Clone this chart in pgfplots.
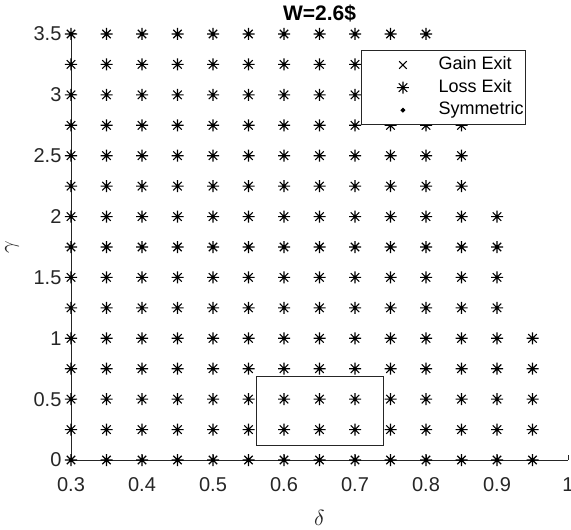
\documentclass[border=0pt]{standalone}
\usepackage{fontspec}
\setmainfont{Liberation Sans}
\usepackage{pgfplots}
\pgfplotsset{compat=1.18}
\pgfdeclareplotmark{mstar}{%
  \pgfpathmoveto{\pgfqpoint{-\pgfplotmarksize}{0pt}}\pgfpathlineto{\pgfqpoint{\pgfplotmarksize}{0pt}}%
  \pgfpathmoveto{\pgfqpoint{0pt}{-\pgfplotmarksize}}\pgfpathlineto{\pgfqpoint{0pt}{\pgfplotmarksize}}%
  \pgfpathmoveto{\pgfqpoint{-0.7071\pgfplotmarksize}{-0.7071\pgfplotmarksize}}\pgfpathlineto{\pgfqpoint{0.7071\pgfplotmarksize}{0.7071\pgfplotmarksize}}%
  \pgfpathmoveto{\pgfqpoint{-0.7071\pgfplotmarksize}{0.7071\pgfplotmarksize}}\pgfpathlineto{\pgfqpoint{0.7071\pgfplotmarksize}{-0.7071\pgfplotmarksize}}%
  \pgfusepathqstroke}
\pgfplotstableread{
x y
0.30 0
0.35 0
0.40 0
0.45 0
0.50 0
0.55 0
0.60 0
0.65 0
0.70 0
0.75 0
0.80 0
0.85 0
0.90 0
0.95 0
0.30 0.25
0.35 0.25
0.40 0.25
0.45 0.25
0.50 0.25
0.55 0.25
0.60 0.25
0.65 0.25
0.70 0.25
0.75 0.25
0.80 0.25
0.85 0.25
0.90 0.25
0.95 0.25
0.30 0.5
0.35 0.5
0.40 0.5
0.45 0.5
0.50 0.5
0.55 0.5
0.60 0.5
0.65 0.5
0.70 0.5
0.75 0.5
0.80 0.5
0.85 0.5
0.90 0.5
0.95 0.5
0.30 0.75
0.35 0.75
0.40 0.75
0.45 0.75
0.50 0.75
0.55 0.75
0.60 0.75
0.65 0.75
0.70 0.75
0.75 0.75
0.80 0.75
0.85 0.75
0.90 0.75
0.95 0.75
0.30 1.0
0.35 1.0
0.40 1.0
0.45 1.0
0.50 1.0
0.55 1.0
0.60 1.0
0.65 1.0
0.70 1.0
0.75 1.0
0.80 1.0
0.85 1.0
0.90 1.0
0.95 1.0
0.30 1.25
0.35 1.25
0.40 1.25
0.45 1.25
0.50 1.25
0.55 1.25
0.60 1.25
0.65 1.25
0.70 1.25
0.75 1.25
0.80 1.25
0.85 1.25
0.90 1.25
0.30 1.5
0.35 1.5
0.40 1.5
0.45 1.5
0.50 1.5
0.55 1.5
0.60 1.5
0.65 1.5
0.70 1.5
0.75 1.5
0.80 1.5
0.85 1.5
0.90 1.5
0.30 1.75
0.35 1.75
0.40 1.75
0.45 1.75
0.50 1.75
0.55 1.75
0.60 1.75
0.65 1.75
0.70 1.75
0.75 1.75
0.80 1.75
0.85 1.75
0.90 1.75
0.30 2.0
0.35 2.0
0.40 2.0
0.45 2.0
0.50 2.0
0.55 2.0
0.60 2.0
0.65 2.0
0.70 2.0
0.75 2.0
0.80 2.0
0.85 2.0
0.90 2.0
0.30 2.25
0.35 2.25
0.40 2.25
0.45 2.25
0.50 2.25
0.55 2.25
0.60 2.25
0.65 2.25
0.70 2.25
0.75 2.25
0.80 2.25
0.85 2.25
0.30 2.5
0.35 2.5
0.40 2.5
0.45 2.5
0.50 2.5
0.55 2.5
0.60 2.5
0.65 2.5
0.70 2.5
0.75 2.5
0.80 2.5
0.85 2.5
0.30 2.75
0.35 2.75
0.40 2.75
0.45 2.75
0.50 2.75
0.55 2.75
0.60 2.75
0.65 2.75
0.70 2.75
0.75 2.75
0.80 2.75
0.85 2.75
0.30 3.0
0.35 3.0
0.40 3.0
0.45 3.0
0.50 3.0
0.55 3.0
0.60 3.0
0.65 3.0
0.70 3.0
0.75 3.0
0.80 3.0
0.30 3.25
0.35 3.25
0.40 3.25
0.45 3.25
0.50 3.25
0.55 3.25
0.60 3.25
0.65 3.25
0.70 3.25
0.75 3.25
0.80 3.25
0.30 3.5
0.35 3.5
0.40 3.5
0.45 3.5
0.50 3.5
0.55 3.5
0.60 3.5
0.65 3.5
0.70 3.5
0.75 3.5
0.80 3.5
}\lossdata
\begin{document}
\begin{tikzpicture}
\begin{axis}[
  name=ax,
  scale only axis,
  width=248.5pt, height=213pt,
  xmin=0.3, xmax=1, ymin=0, ymax=3.5,
  axis x line*=bottom, axis y line*=left,
  axis line style={black!85, line width=0.5pt},
  clip=false,
  tick align=inside,
  major tick length=2.5pt,
  tick style={black!85, line width=0.5pt},
  xtick={0.3,0.4,0.5,0.6,0.7,0.8,0.9,1},
  xticklabels={0.3,0.4,0.5,0.6,0.7,0.8,0.9,1},
  ytick={0,0.5,1,1.5,2,2.5,3,3.5},
  yticklabels={0,0.5,1,1.5,2,2.5,3,3.5},
  ticklabel style={font=\fontsize{10}{12}\selectfont, text=black!85},
  xticklabel style={anchor=center, yshift=-12.3pt},
  yticklabel style={anchor=east, inner xsep=0pt, xshift=-4.6pt},
  xlabel={$\delta$},
  ylabel={$\gamma$},
  xlabel style={at={(axis description cs:0.5,-0.136)}, anchor=center, font=\fontsize{11}{13}\selectfont, text=black!85},
  ylabel style={at={(axis description cs:-0.1187,0.5)}, anchor=center, font=\fontsize{11}{13}\selectfont, text=black!85},
  title={W=2.6\$},
  every axis title shift=0pt,
  title style={at={(axis description cs:0.5,1.048)}, anchor=center, font=\bfseries\fontsize{10.5}{12}\selectfont},
  legend image code/.code={\path (0pt,0pt) (37pt,0pt); \draw[#1] plot[only marks] coordinates {(19.5pt,0pt)};},
  legend style={at={(axis description cs:1,1)}, anchor=north east, xshift=-21pt, yshift=-8pt,
    draw=black!85, line width=0.5pt, fill=white,
    inner xsep=1pt, inner ysep=1.6pt,
    nodes={inner xsep=0pt, inner ysep=1.4pt, text height=6.5pt, text depth=2pt, font=\fontsize{9}{10}\selectfont},
    /tikz/every even column/.style={column sep=0pt},
    cells={anchor=west}},
]
\addlegendimage{only marks, mark=x, mark size=2.7pt, black, line width=0.5pt}
\addlegendentry{Gain Exit}
\addplot[only marks, mark=mstar, mark size=3pt, black, line width=0.55pt] table[x=x, y=y] {\lossdata};
\addlegendentry{Loss Exit}
\addlegendimage{only marks, mark=*, mark size=0.9pt, black}
\addlegendentry{Symmetric}
\addplot[black!85, line width=0.5pt, mark=none, forget plot] coordinates {(0.5606,0.123) (0.7408,0.123) (0.7408,0.682) (0.5606,0.682) (0.5606,0.123)};
\end{axis}
\pgfresetboundingbox
\path[use as bounding box] ([xshift=-35.5pt,yshift=-34.5pt]ax.south west) rectangle ([xshift=1.5pt,yshift=17pt]ax.north east);
\end{tikzpicture}
\end{document}
